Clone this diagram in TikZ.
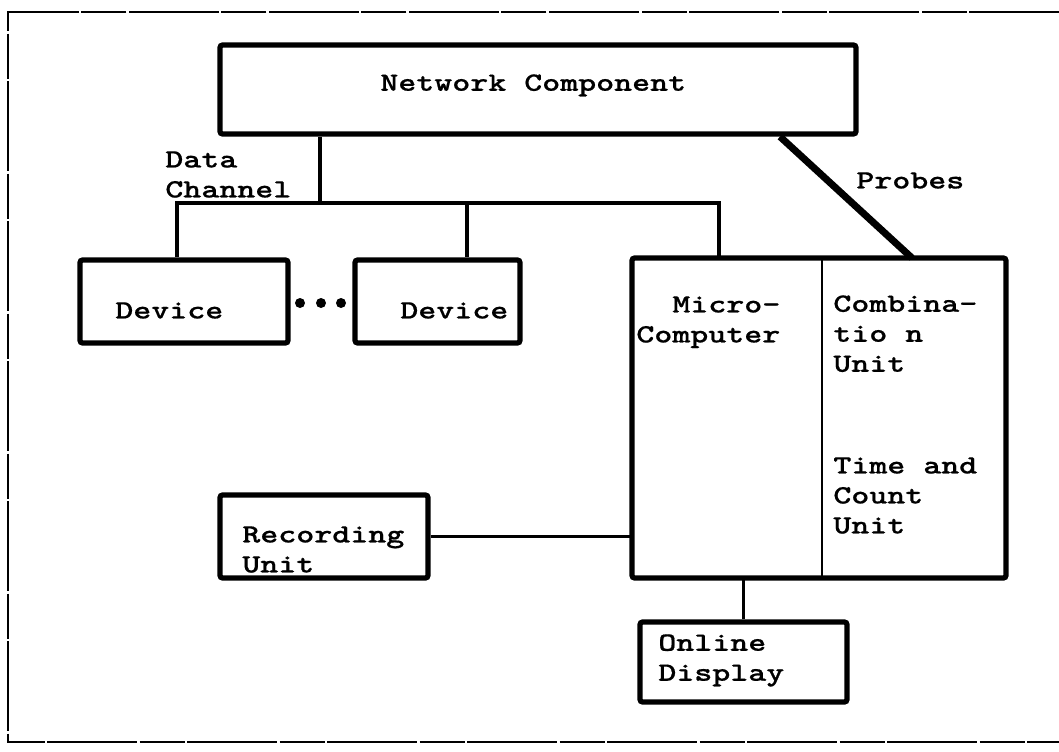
\documentclass[tikz,border=0pt]{standalone}
\usepackage{fontspec}
\newfontfamily\typew{lmmonolt10-bold.otf}[FakeStretch=1.3,FakeBold=0.6]
\tikzset{
  box/.style={draw, line width=3pt, inner sep=0pt, rounded corners=1.5pt},
  part/.style={inner sep=0pt, outer sep=0pt},
  wire/.style={line width=2.2pt},
  txt/.style={font=\typew\fontsize{15}{17.07}\selectfont, anchor=north west, inner sep=0pt, align=left}
}
\begin{document}
\begin{tikzpicture}[x=0.2mm,y=-0.2mm]
\useasboundingbox (0,0) rectangle (1059,751);
\draw[line width=1.3pt, dash pattern=on 18mm off 0.5mm on 9mm off 0.5mm] (1059,12) -- (8,12) -- (8,742) -- (1059,742);

\node[box, minimum width=127.2mm, minimum height=17.8mm] (nc) at (538,89.5) {};
\node[box, minimum width=41.6mm, minimum height=16.6mm] (devA) at (184,301.5) {};
\node[box, minimum width=33mm, minimum height=16.6mm] (devB) at (437.5,301.5) {};
\node[part, minimum width=38mm, minimum height=64mm] (mc) at (727,418) {};
\node[part, minimum width=36.8mm, minimum height=64mm] (cu) at (914,418) {};
\node[box, minimum width=41.6mm, minimum height=16.6mm] (rec) at (324,536.5) {};
\node[box, minimum width=41.4mm, minimum height=16mm] (disp) at (743.5,662) {};
\draw[line width=3pt, rounded corners=1.5pt] (mc.north west) rectangle (cu.south east);
\draw[line width=1.6pt] (mc.north east) -- (mc.south east);

\coordinate (trunk) at (320,203);
\coordinate (tapA) at (177,203);
\coordinate (tapB) at (467,203);
\coordinate (tapC) at (719,203);
\coordinate (prbA) at (780,0);
\coordinate (prbB) at (912,0);
\draw[wire] (nc.south -| trunk) -- (trunk);
\draw[wire] (devA.north -| tapA) -- (tapA) -- (tapC) -- (mc.north -| tapC);
\draw[wire] (tapB) -- (devB.north -| tapB);
\draw[line width=4pt] (nc.south -| prbA) -- (cu.north -| prbB);
\draw[wire] (rec.east) -- (rec.east -| mc.west);
\draw[wire] (disp.north) -- (disp.north |- mc.south);
\foreach \x in {300,321,341}
    \fill (\x,303) circle (1mm);

\node[txt] (nc-t) at (380,74) {Network Component};
\node[txt] (dch) at (165,151) {Data\\Channel};
\node[txt] (prb) at (856,172) {Probes};
\node[txt] (devA-t) at (115,302) {Device};
\node[txt] (devB-t) at (400,302) {Device};
\node[txt] (mc-t) at (636,296) {~~Micro-\\Computer};
\node[txt] (comb-t) at (833,295) {Combina-\\tio n\\Unit};
\node[txt] (time-t) at (833,457) {Time and\\Count\\Unit};
\node[txt] (rec-t) at (242,526) {Recording\\Unit};
\node[txt] (disp-t) at (658,634) {Online\\Display};
\end{tikzpicture}
\end{document}
